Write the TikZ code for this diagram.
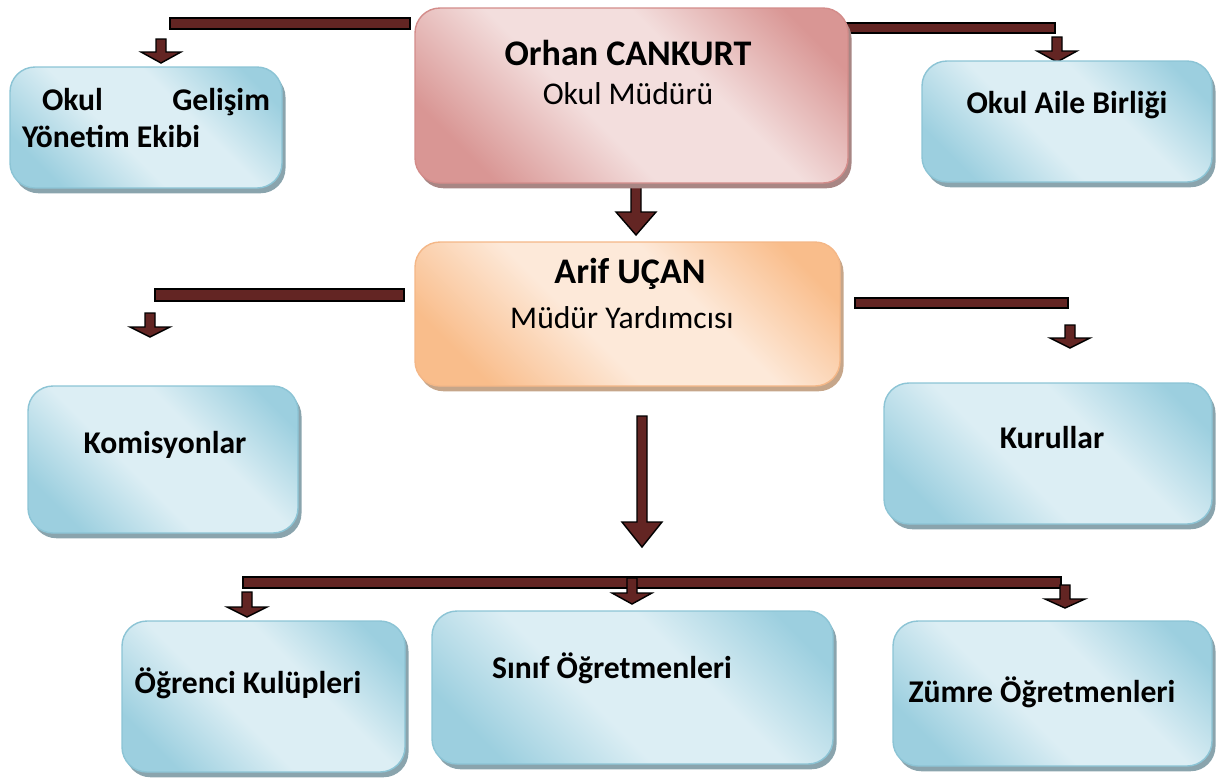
\documentclass[tikz,border=0pt]{standalone}
\usepackage{fontspec}
\setmainfont{Carlito}
\usetikzlibrary{shadows,fit}

\definecolor{arrowred}{HTML}{632523}
\definecolor{bluedark}{HTML}{9CCFDF}
\definecolor{bluelight}{HTML}{DCEEF4}
\definecolor{blueline}{HTML}{8CC4D5}
\definecolor{blueshadow}{HTML}{8AA4AD}
\definecolor{pinkdark}{HTML}{D99694}
\definecolor{pinklight}{HTML}{F3DEDD}
\definecolor{pinkline}{HTML}{D38C8A}
\definecolor{pinkshadow}{HTML}{A88684}
\definecolor{orangedark}{HTML}{F9BD8B}
\definecolor{orangelight}{HTML}{FDE9D9}
\definecolor{orangeline}{HTML}{F4B787}
\definecolor{orangeshadow}{HTML}{C6A68A}

\pgfdeclarehorizontalshading{bluegrad}{100bp}{color(0bp)=(bluedark); color(24bp)=(bluedark); color(43bp)=(bluelight); color(60bp)=(bluelight); color(78bp)=(bluedark); color(100bp)=(bluedark)}
\pgfdeclarehorizontalshading{pinkgrad}{100bp}{color(0bp)=(pinkdark); color(24bp)=(pinkdark); color(43bp)=(pinklight); color(60bp)=(pinklight); color(78bp)=(pinkdark); color(100bp)=(pinkdark)}
\pgfdeclarehorizontalshading{orangegrad}{100bp}{color(0bp)=(orangedark); color(24bp)=(orangedark); color(43bp)=(orangelight); color(60bp)=(orangelight); color(78bp)=(orangedark); color(100bp)=(orangedark)}

% block arrow pointing down: x, shaft top, head start, tip
\newcommand{\blkarrow}[4]{%
  \draw[arr] (#1-5,#2) -- (#1+5,#2) -- (#1+5,#3) -- (#1+20,#3) -- (#1,#4)
    -- (#1-20,#3) -- (#1-5,#3) -- cycle;}

\tikzset{
  box/.style={rounded corners=0.5cm, line width=0.8pt, inner sep=0pt, shading angle=45},
  bluebox/.style={box, draw=blueline, shading=bluegrad,
    drop shadow={shadow xshift=2pt, shadow yshift=-3pt, fill=blueshadow, opacity=1}},
  pinkbox/.style={box, draw=pinkline, shading=pinkgrad,
    drop shadow={shadow xshift=2pt, shadow yshift=-3pt, fill=pinkshadow, opacity=1}},
  orangebox/.style={box, draw=orangeline, shading=orangegrad,
    drop shadow={shadow xshift=2pt, shadow yshift=-3pt, fill=orangeshadow, opacity=1}},
  lbl/.style={font=\fontsize{18}{21}\selectfont\bfseries, inner sep=0pt},
  head/.style={font=\fontsize{20.5}{24}\selectfont\bfseries, inner sep=0pt},
  sub/.style={font=\fontsize{18}{21}\selectfont, inner sep=0pt},
  arr/.style={fill=arrowred, draw=black, line width=0.8pt},
}

\begin{document}
\begin{tikzpicture}[x=0.02cm,y=-0.02cm]
  \useasboundingbox (0,0) rectangle (1219,779);

  % bars and arrows
  \draw[arr] (170,18) rectangle (410,29);
  \blkarrow{161}{39}{52}{63}
  \draw[arr] (843,23) rectangle (1055,33);
  \blkarrow{1057}{37}{51}{62}
  \blkarrow{636}{170}{212}{235}
  \draw[arr] (155,289) rectangle (404,301);
  \blkarrow{150}{313}{327}{337}
  \draw[arr] (855,298) rectangle (1068,308);
  \blkarrow{1070}{325}{338}{348}
  \blkarrow{642}{416}{522}{547}
  \draw[arr] (243,577) rectangle (1061,588);
  \blkarrow{247}{592}{607}{617}
  \blkarrow{632}{578}{593}{604}
  \blkarrow{1065}{585}{599}{608}

  % boxes
  \node[pinkbox, fit={(415,8) (848,183)}] (mudur) {};
  \node[orangebox, fit={(415,242) (840,386)}] (yardimci) {};
  \node[bluebox, fit={(10,67) (282,188)}] (gelisim) {};
  \node[bluebox, fit={(922,61) (1212,182)}] (aile) {};
  \node[bluebox, fit={(28,386) (298,533)}] (komisyon) {};
  \node[bluebox, fit={(884,383) (1212,524)}] (kurul) {};
  \node[bluebox, fit={(122,621) (405,772)}] (kulup) {};
  \node[bluebox, fit={(432,611) (833,764)}] (sinif) {};
  \node[bluebox, fit={(893,621) (1212,766)}] (zumre) {};

  % texts
  \node[head] (mudurT) at (628,53) {Orhan CANKURT};
  \node[sub] (mudurS) at (628,94) {Okul Müdürü};
  \node[head] (yardimciT) at (630,274) {Arif UÇAN};
  \node[sub] (yardimciS) at (622,318) {Müdür Yardımcısı};
  \node[lbl] (gelisimT) at (146,118)
    {\parbox{4.96cm}{\hspace*{0.4cm}Okul\hfill Gelişim\\Yönetim Ekibi}};
  \node[lbl] (aileT) at (1067,105) {Okul Aile Birliği};
  \node[lbl] (komisyonT) at (165,445) {Komisyonlar};
  \node[lbl] (kurulT) at (1052,438) {Kurullar};
  \node[lbl] (kulupT) at (248,683) {Öğrenci Kulüpleri};
  \node[lbl] (sinifT) at (612,668) {Sınıf Öğretmenleri};
  \node[lbl] (zumreT) at (1042,692) {Zümre Öğretmenleri};
\end{tikzpicture}
\end{document}
